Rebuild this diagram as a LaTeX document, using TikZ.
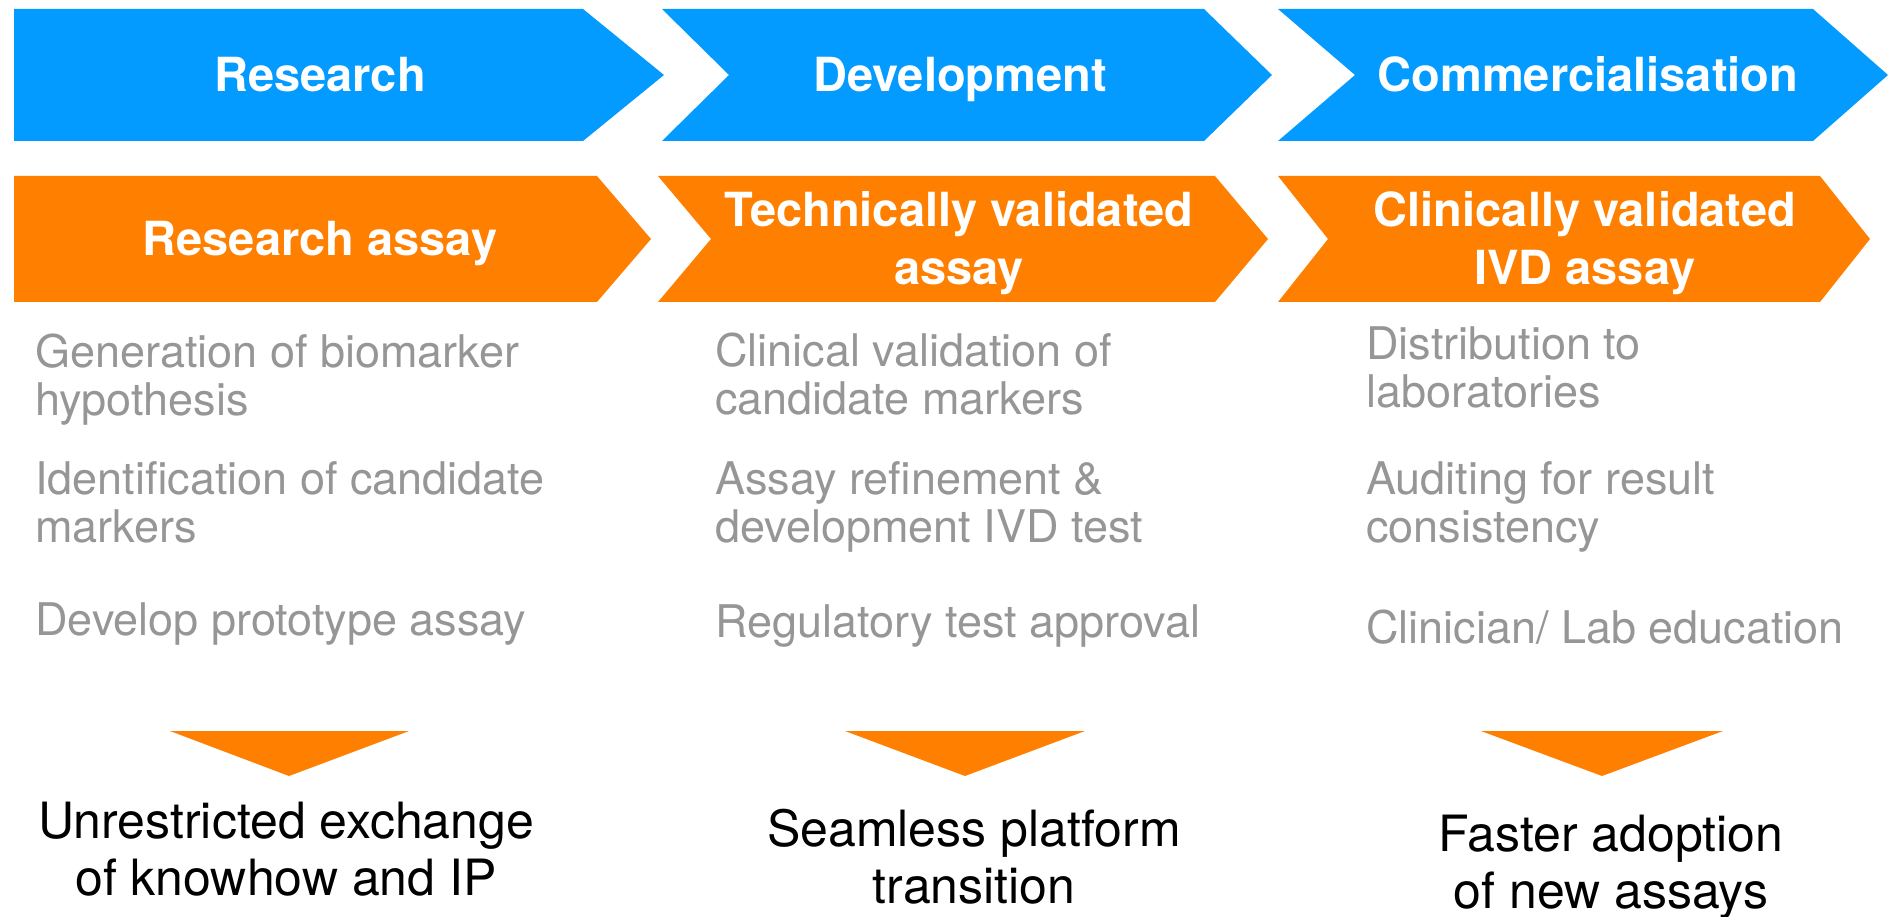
\documentclass[tikz,border=0pt]{standalone}
\usepackage{fontspec}
\setmainfont{TeX Gyre Heros}
\definecolor{phaseblue}{RGB}{3,155,255}
\definecolor{assayorange}{RGB}{255,128,0}
\definecolor{stepgray}{RGB}{150,150,150}
\tikzset{
  headtext/.style={text=white,font=\fontsize{47}{58}\selectfont\bfseries,align=center,inner sep=0pt,anchor=base},
  steptext/.style={text=stepgray,font=\fontsize{45}{48}\selectfont,align=left,inner sep=0pt,anchor=base west},
  gaintext/.style={text=black,font=\fontsize{50}{57}\selectfont,align=center,inner sep=0pt,anchor=base}
}
\begin{document}
\begin{tikzpicture}[x=1pt,y=-1pt]
\useasboundingbox (0,0) rectangle (1888,917);

% phases
\fill[color=phaseblue] (14,9) -- (583,9) -- (664,75) -- (583,141) -- (14,141) -- cycle;
\fill[color=phaseblue] (662,9) -- (1204,9) -- (1272,75) -- (1204,141) -- (662,141) -- (729,75) -- cycle;
\fill[color=phaseblue] (1278,9) -- (1813,9) -- (1888,75) -- (1813,141) -- (1278,141) -- (1355,75) -- cycle;

\node[headtext] (research) at (320,92) {Research};
\node[headtext] (development) at (960,92) {Development};
\node[headtext] (commercial) at (1588,92) {Commercialisation};

% assay types (base = last line)
\fill[color=assayorange] (14,176) -- (597,176) -- (651,239) -- (597,302) -- (14,302) -- cycle;
\fill[color=assayorange] (658,176) -- (1215,176) -- (1268,239) -- (1215,302) -- (658,302) -- (711,239) -- cycle;
\fill[color=assayorange] (1278,176) -- (1820,176) -- (1870,239) -- (1820,302) -- (1278,302) -- (1328,239) -- cycle;

\node[headtext] (researchassay) at (320,256) {Research assay};
\node[headtext] (technical) at (959,285) {Technically validated\\assay};
\node[headtext] (clinical) at (1585,285) {Clinically validated\\IVD assay};

% steps
\node[steptext] (generation) at (35,415) {Generation of biomarker\\hypothesis};
\node[steptext] (identification) at (35,542) {Identification of candidate\\markers};
\node[steptext] (prototype) at (35,635) {Develop prototype assay};

\node[steptext] (validation) at (715,414) {Clinical validation of\\candidate markers};
\node[steptext] (refinement) at (715,542) {Assay refinement \&\\development IVD test};
\node[steptext] (approval) at (715,637) {Regulatory test approval};

\node[steptext] (distribution) at (1366,407) {Distribution to\\laboratories};
\node[steptext] (auditing) at (1366,542) {Auditing for result\\consistency};
\node[steptext] (education) at (1366,643) {Clinician/ Lab education};

% gains
\fill[color=assayorange] (170,731) -- (409,731) -- (289,776) -- cycle;
\fill[color=assayorange] (845,731) -- (1085,731) -- (965,776) -- cycle;
\fill[color=assayorange] (1481,731) -- (1723,731) -- (1602,776) -- cycle;

\node[gaintext] (exchange) at (286,895) {Unrestricted exchange\\of knowhow and IP};
\node[gaintext] (seamless) at (974,903) {Seamless platform\\transition};
\node[gaintext] (adoption) at (1611,908) {Faster adoption\\of new assays};
\end{tikzpicture}
\end{document}
